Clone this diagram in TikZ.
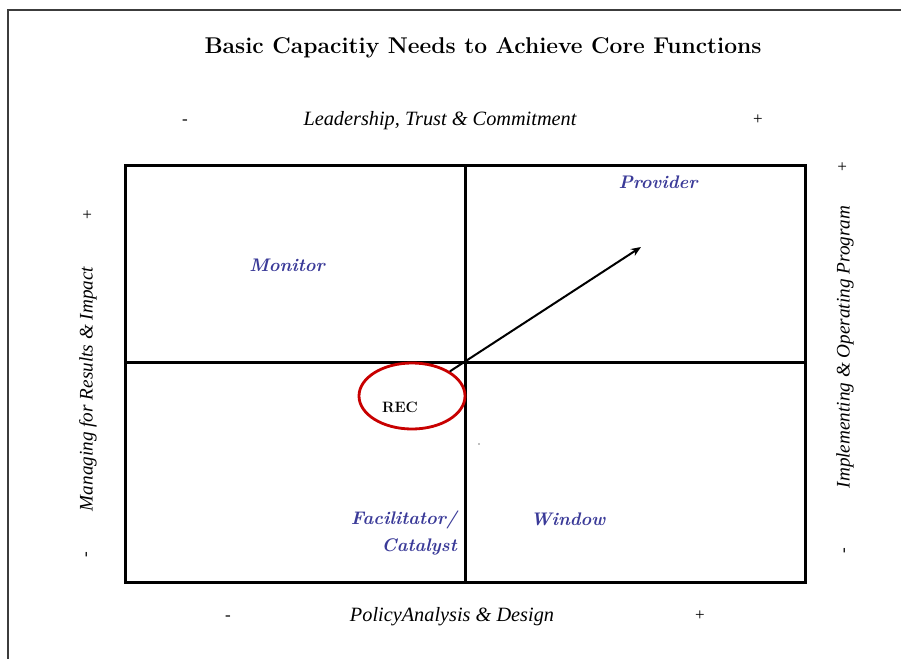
\documentclass[tikz,border=0pt]{standalone}
\usepackage{fontspec}
\newfontfamily\axisfont{Liberation Serif}
\usetikzlibrary{shapes.geometric,arrows.meta}
\definecolor{qblue}{RGB}{58,58,152}
\definecolor{recred}{RGB}{200,0,0}
\definecolor{framegray}{RGB}{60,60,60}
\tikzset{
  gridline/.style={line width=3pt, black},
  axislabel/.style={font=\axisfont\itshape\fontsize{20.3}{22}\selectfont, inner sep=0pt},
  sidelabel/.style={font=\axisfont\itshape\fontsize{19.2}{22}\selectfont, inner sep=0pt, rotate=90},
  sign/.style={font=\axisfont\fontsize{17}{18}\selectfont, inner sep=0pt},
  quad/.style={font=\bfseries\itshape\fontsize{18.2}{27}\selectfont, text=qblue, inner sep=0pt},
  titlestyle/.style={font=\bfseries\fontsize{22.8}{26}\selectfont, inner sep=0pt},
}
\begin{document}
\begin{tikzpicture}[x=1pt,y=-1pt]
\useasboundingbox (0,0) rectangle (901,658);
% outer frame (partially visible)
\draw[framegray, line width=1.3pt] (8,662) -- (8,10) -- (905,10);
% title
\node[titlestyle] (title) at (483,48) {Basic Capacitiy Needs to Achieve Core Functions};
% top axis
\node[sign] (tminus) at (185,122) {-};
\node[axislabel] (top) at (440,121) {Leadership, Trust \& Commitment};
\node[sign] (tplus) at (758,120) {+};
% bottom axis
\node[sign] (bminus) at (228,618) {-};
\node[axislabel] (bottom) at (452,617) {PolicyAnalysis \& Design};
\node[sign] (bplus) at (700,616) {+};
% left axis
\node[sign, rotate=90] (lplus) at (88,215) {+};
\node[sidelabel] (left) at (88,389) {Managing for Results \& Impact};
\node[sign, rotate=90] (lminus) at (88,555) {-};
% right axis
\node[sign, rotate=90] (rplus) at (843,167) {+};
\node[sidelabel] (right) at (845,347) {Implementing \& Operating Program};
\node[sign, rotate=90] (rminus) at (846,551) {-};
% grid
\draw[gridline] (125,165) rectangle (805,582);
\draw[gridline] (465,165) -- (465,582);
\draw[gridline] (125,362) -- (805,362);
% quadrant labels
\node[quad] (monitor) at (287,265) {Monitor};
\node[quad] (provider) at (658,182) {Provider};
\node[quad, align=right, anchor=east] (facil) at (457,533) {Facilitator/\\Catalyst};
\node[quad] (window) at (568,519) {Window};
% REC ellipse and arrow
\node[ellipse, draw=recred, line width=2.8pt, minimum width=106pt, minimum height=66pt, inner sep=0pt] (rec) at (412,396) {};
\node[font=\bfseries\fontsize{15}{17}\selectfont, inner sep=0pt] (rectext) at (400,407) {REC};
\coordinate (tip) at (641,247);
\draw[line width=2pt, -{Stealth[length=10pt,width=8pt]}] (rec) -- (tip);
% small dot
\fill[gray] (479,444) circle (0.8pt);
\end{tikzpicture}
\end{document}
